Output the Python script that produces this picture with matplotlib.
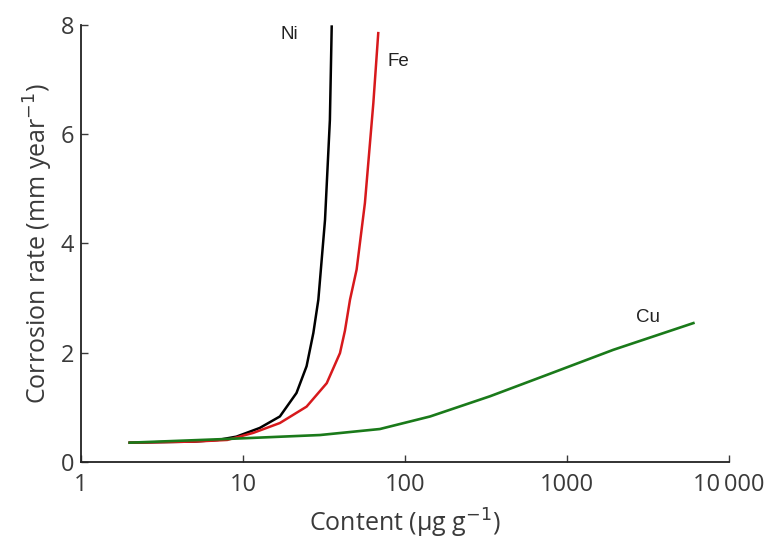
import numpy as np
import matplotlib
matplotlib.use('Agg')
from matplotlib import pyplot as plt

# values
ni_x = [2, 5, 7, 9.1, 12.7, 16.9, 21.4, 24.7, 27.2, 29.2, 32.1, 34.4, 35.3]
ni_y = [0.35, 0.37, 0.40, 0.46, 0.62, 0.83, 1.26, 1.75, 2.36, 2.97, 4.43, 6.26, 7.97]

fe_x = [2, 5, 8, 11.6, 16.9, 24.7, 32.9, 39.7, 42.6, 45.8, 50.3, 56.6, 63.8, 68.4]
fe_y = [0.35, 0.37, 0.40, 0.53, 0.71, 1.01, 1.44, 1.99, 2.40, 2.97, 3.52, 4.74, 6.57, 7.85]

cu_x = [2, 8.3, 29.9, 70, 143, 335, 750, 1930, 6030]
cu_y = [0.35, 0.42, 0.49, 0.60, 0.83, 1.20, 1.59, 2.05, 2.54]

x_ticks = [1, 10, 100, 1000, 10000]
x_tick_labels = ['1', '10', '100', '1000', '10\u2009000']
y_ticks = [0, 2, 4, 6, 8]

plt.rcParams['font.family'] = ['Open Sans', 'DejaVu Sans']

fig = plt.figure(figsize=(7.71, 5.42), dpi=100)
ax = fig.add_axes([0.105, 0.148, 0.8405, 0.806])

ax.plot(ni_x, ni_y, color='black', linewidth=1.8)
ax.plot(fe_x, fe_y, color='#d7191c', linewidth=1.8)
ax.plot(cu_x, cu_y, color='#1a7a1a', linewidth=1.9)

ax.set_xscale('log')
ax.set_xlim(1, 10000)
ax.set_ylim(0, 8)
ax.set_xticks(x_ticks)
ax.set_xticklabels(x_tick_labels)
ax.set_yticks(y_ticks)
ax.minorticks_off()
ax.tick_params(direction='in', length=5, width=1, labelsize=17, colors='#3a3a3a')
ax.tick_params(axis='x', pad=8)
ax.tick_params(axis='y', pad=5)

for s in ['top', 'right']:
    ax.spines[s].set_visible(False)
for s in ['left', 'bottom']:
    ax.spines[s].set_linewidth(1.3)
    ax.spines[s].set_color('#222222')

ax.set_xlabel('Content (\u03bcg g$^{-1}$)', fontsize=18, color='#3a3a3a', labelpad=7)
ax.set_ylabel('Corrosion rate (mm year$^{-1}$)', fontsize=18, color='#3a3a3a', labelpad=4)

lab = dict(family=['Liberation Sans', 'DejaVu Sans'], fontsize=13.5, color='#222222')
ax.text(17.0, 7.74, 'Ni', **lab)
ax.text(78.5, 7.24, 'Fe', **lab)
ax.text(2650, 2.56, 'Cu', **lab)

fig.savefig('out.png', dpi=100)
